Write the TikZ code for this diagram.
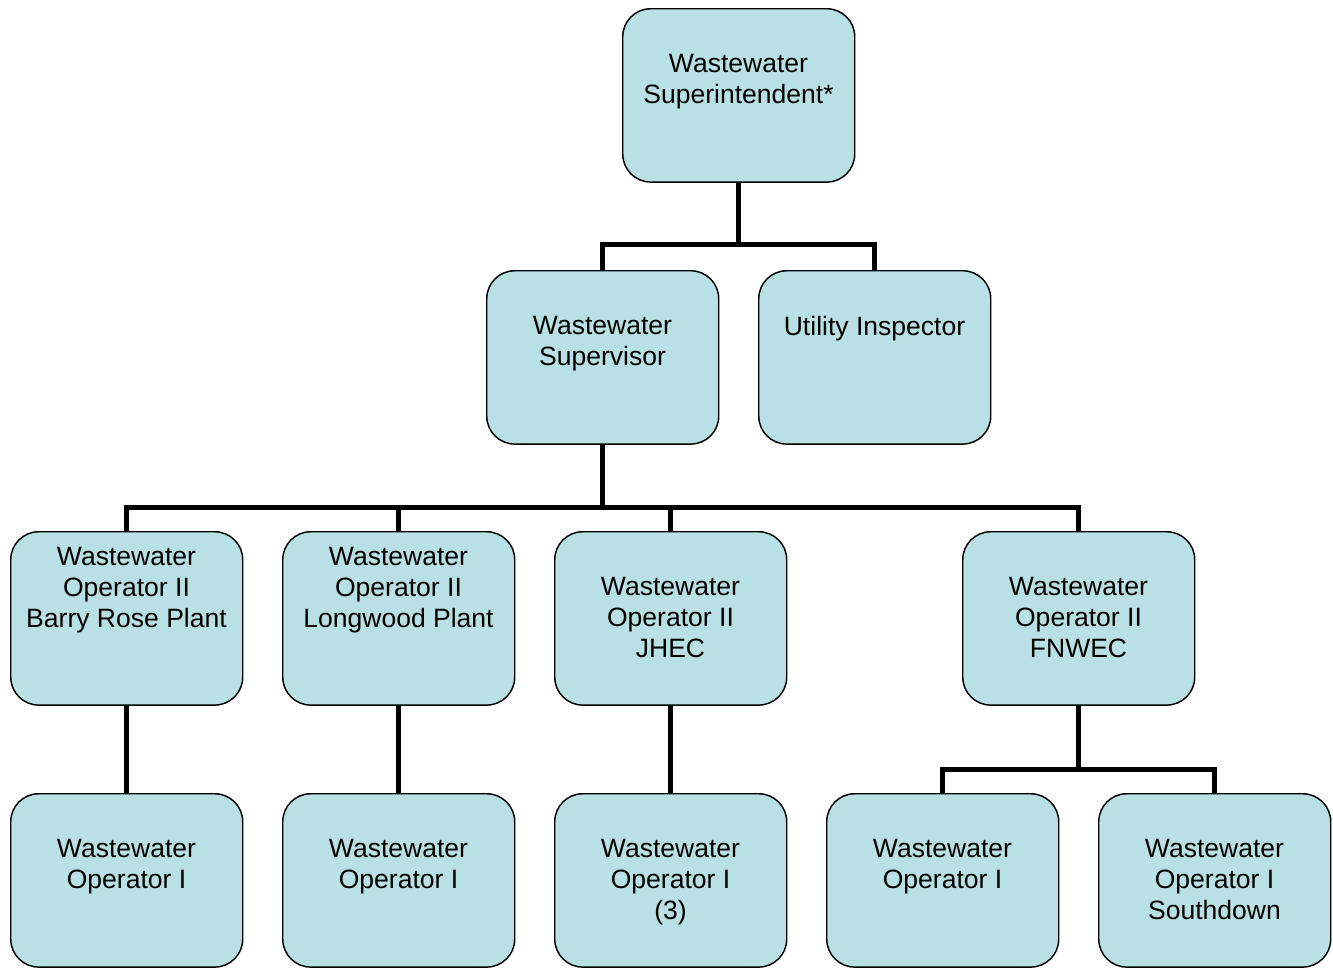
\documentclass[tikz,border=0pt]{standalone}
\usepackage{fontspec}
\setmainfont{Liberation Sans}
\definecolor{boxfill}{RGB}{185,224,228}
\begin{document}
\begin{tikzpicture}[x=0.75pt,y=-0.75pt,
  orgbox/.style={draw=black, line width=1.1pt, fill=boxfill, rounded corners=21pt,
    minimum width=174pt, minimum height=130pt, inner sep=0pt, anchor=north west},
  lbl/.style={align=center, inner sep=0pt, anchor=base,
    font=\fontsize{19.9pt}{22.9pt}\selectfont},
  conn/.style={draw=black, line width=3.75pt}]
\useasboundingbox (0,0) rectangle (1333,967);

% boxes
\node[orgbox] (sup) at (622,8) {};
\node[orgbox] (svr) at (486,270) {};
\node[orgbox] (ins) at (758,270) {};
\node[orgbox] (br)  at (10,531) {};
\node[orgbox] (lw)  at (282,531) {};
\node[orgbox] (jh)  at (554,531) {};
\node[orgbox] (fn)  at (962,531) {};
\node[orgbox] (o1)  at (10,793) {};
\node[orgbox] (o2)  at (282,793) {};
\node[orgbox] (o3)  at (554,793) {};
\node[orgbox] (o4)  at (826,793) {};
\node[orgbox] (o5)  at (1098,793) {};

% connectors
\draw[conn] (sup.south) -- (sup.south |- 0,244) -| (svr.north);
\draw[conn] (sup.south |- 0,244) -| (ins.north);
\draw[conn] (svr.south) -- (svr.south |- 0,507) -| (br.north);
\draw[conn] (svr.south |- 0,507) -| (lw.north);
\draw[conn] (svr.south |- 0,507) -| (jh.north);
\draw[conn] (svr.south |- 0,507) -| (fn.north);
\draw[conn] (br.south) -- (o1.north);
\draw[conn] (lw.south) -- (o2.north);
\draw[conn] (jh.south) -- (o3.north);
\draw[conn] (fn.south) -- (fn.south |- 0,769) -| (o4.north);
\draw[conn] (fn.south |- 0,769) -| (o5.north);

% labels (positioned at the baseline of their last line)
\node[lbl] (tsup) at (738.5,103.5) {Wastewater\\Superintendent*};
\node[lbl] (tsvr) at (602.5,365.5) {Wastewater\\Supervisor};
\node[lbl] (tins) at (874.5,335) {Utility Inspector};
\node[lbl] (tbr)  at (126.5,627) {Wastewater\\Operator II\\Barry Rose Plant};
\node[lbl] (tlw)  at (398.5,627) {Wastewater\\Operator II\\Longwood Plant};
\node[lbl] (tjh)  at (670.5,657) {Wastewater\\Operator II\\JHEC};
\node[lbl] (tfn)  at (1078.5,657) {Wastewater\\Operator II\\FNWEC};
\node[lbl] (to1)  at (126.5,888.5) {Wastewater\\Operator I};
\node[lbl] (to2)  at (398.5,888.5) {Wastewater\\Operator I};
\node[lbl] (to3)  at (670.5,919) {Wastewater\\Operator I\\(3)};
\node[lbl] (to4)  at (942.5,888.5) {Wastewater\\Operator I};
\node[lbl] (to5)  at (1214.5,919) {Wastewater\\Operator I\\Southdown};
\end{tikzpicture}
\end{document}
